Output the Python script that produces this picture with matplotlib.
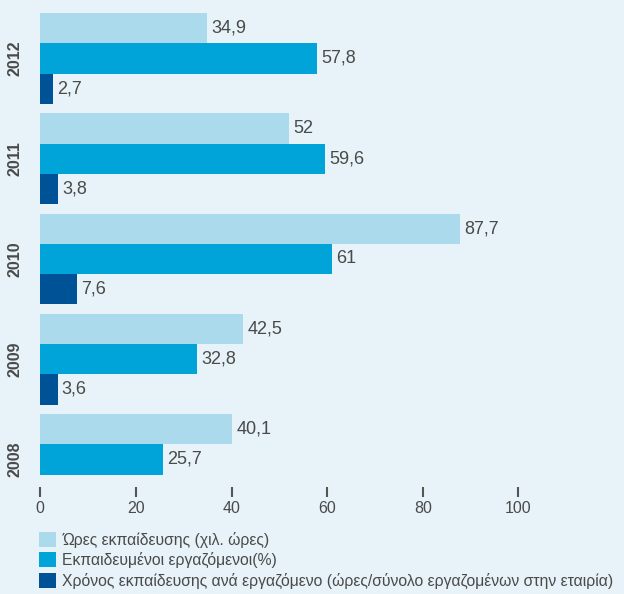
import numpy as np
import matplotlib.pyplot as plt
from matplotlib.patches import Patch

# training figures per year (2008 has no per-employee value)
years = ["2008", "2009", "2010", "2011", "2012"]
hours = [40.1, 42.5, 87.7, 52, 34.9]
trained_pct = [25.7, 32.8, 61, 59.6, 57.8]
hours_per_emp = [None, 3.6, 7.6, 3.8, 2.7]

series_labels = [
    "Ώρες εκπαίδευσης (χιλ. ώρες)",
    "Εκπαιδευμένοι εργαζόμενοι(%)",
    "Χρόνος εκπαίδευσης ανά εργαζόμενο (ώρες/σύνολο εργαζομένων στην εταιρία)",
]
colors = ["#abdaec", "#00a4d9", "#005296"]
bg = "#e7f3f8"
text_color = "#4a4a4a"

plt.rcParams["font.family"] = ["Liberation Sans", "DejaVu Sans"]

fig = plt.figure(figsize=(6.24, 5.94), dpi=100, facecolor=bg)
ax = fig.add_axes([40.3 / 624, 1 - 487 / 594, 1 - 40.3 / 624, 487 / 594])
ax.set_facecolor(bg)

h = 0.302
y = np.arange(len(years))
offsets = [h, 0.0, -h]

for series, off, col in zip([hours, trained_pct, hours_per_emp], offsets, colors):
    for yi, v in zip(y, series):
        if v is None:
            continue
        ax.barh(yi + off, v, height=h, color=col, linewidth=0)
        label = f"{v:g}".replace(".", ",")
        ax.text(v + 0.9, yi + off, label, va="center", ha="left",
                fontsize=13, color=text_color)

ax.set_xlim(0, 122.1)
ax.set_ylim(-0.275, 4 + 1.5 * h + 0.13)

ax.set_xticks([0, 20, 40, 60, 80, 100])
ax.tick_params(axis="x", direction="out", length=7, width=1.5, color="#555555",
               labelsize=11.5, labelcolor=text_color, pad=3)
ax.set_yticks(y)
ax.set_yticklabels(years, rotation=90, va="center", fontweight="bold",
                   fontsize=11.5, color=text_color)
ax.tick_params(axis="y", length=0, pad=13)

for s in ax.spines.values():
    s.set_visible(False)

handles = [Patch(facecolor=c, edgecolor="none") for c in colors]
fig.legend(handles, series_labels, loc="upper left",
           bbox_to_anchor=(39 / 624, 1 - 532 / 594), frameon=False,
           fontsize=11.3, labelcolor=text_color, handlelength=1.08,
           handleheight=1.08, handletextpad=0.4, labelspacing=0.27,
           borderaxespad=0, borderpad=0)

fig.savefig("out.png", dpi=100, facecolor=bg)
